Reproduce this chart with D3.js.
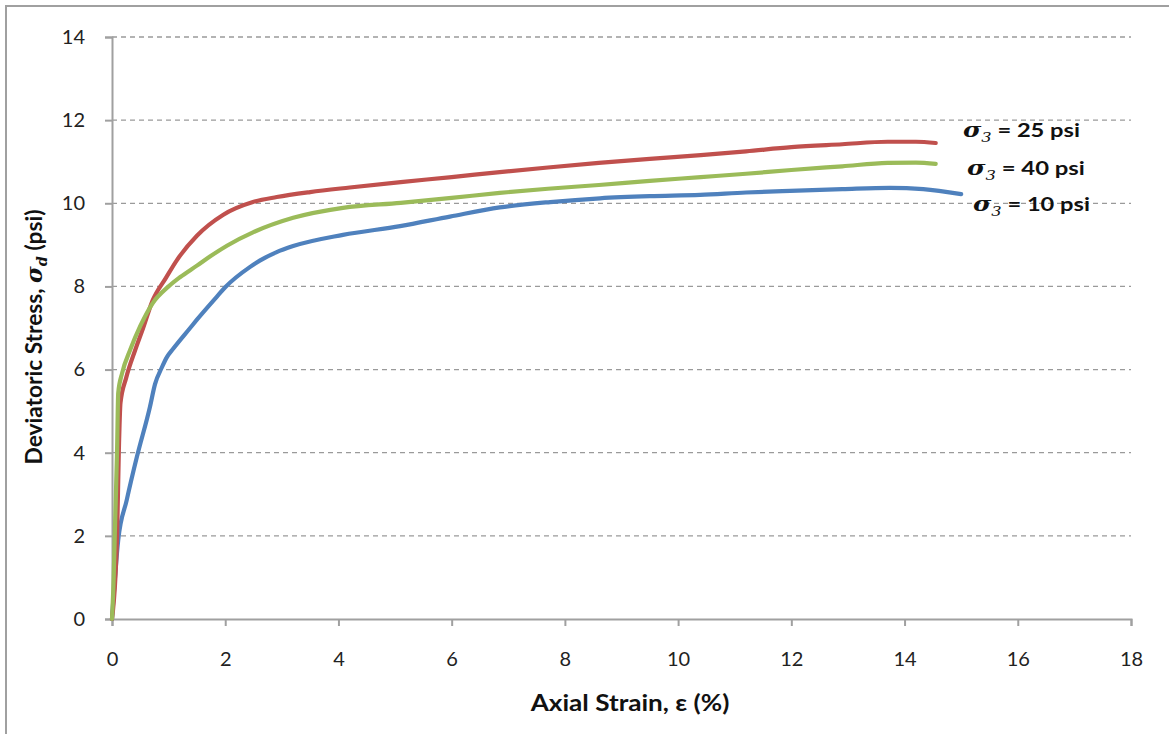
<!DOCTYPE html>
<html>
<head>
<meta charset="utf-8">
<script src="https://cdn.jsdelivr.net/npm/d3@7"></script>
<style>
  html, body { margin: 0; padding: 0; background: #fff; }
  svg { display: block; }
</style>
</head>
<body>
<svg id="chart" width="1169" height="734"></svg>
<script>
// ---- data ----
const xTicks = [0, 2, 4, 6, 8, 10, 12, 14, 16, 18];
const yTicks = [0, 2, 4, 6, 8, 10, 12, 14];

const seriesNames = ["10", "25", "40"];

const strain10 = [0, 0.11, 0.26, 0.44, 0.67, 0.76, 0.88, 0.97, 1.08, 1.38, 1.5, 1.85, 2.0, 2.44, 2.61, 2.9, 3.2, 4.08, 5.09, 5.97, 6.85, 7.74, 8.62, 9.5, 10.39, 11.2, 11.98, 12.9, 13.74, 14.33, 15.0];
const stress10 = [0, 1.9, 2.86, 3.9, 5.1, 5.65, 6.05, 6.3, 6.5, 7.0, 7.2, 7.75, 7.98, 8.47, 8.62, 8.82, 8.97, 9.24, 9.45, 9.68, 9.9, 10.03, 10.12, 10.17, 10.2, 10.26, 10.3, 10.34, 10.37, 10.34, 10.22];

const strain25 = [0, 0.06, 0.09, 0.12, 0.15, 0.25, 0.41, 0.55, 0.72, 0.95, 1.15, 1.5, 1.96, 2.49, 2.91, 3.5, 4.2, 5.1, 6.0, 6.85, 7.7, 8.6, 9.5, 10.4, 11.2, 12.0, 12.9, 13.7, 14.2, 14.55];
const stress25 = [0, 1.0, 2.0, 4.0, 5.2, 5.8, 6.47, 7.0, 7.67, 8.2, 8.64, 9.22, 9.72, 10.03, 10.15, 10.27, 10.38, 10.51, 10.63, 10.75, 10.86, 10.97, 11.07, 11.16, 11.25, 11.35, 11.42, 11.48, 11.48, 11.45];

const strain40 = [0, 0.03, 0.05, 0.09, 0.11, 0.18, 0.32, 0.5, 0.72, 1.0, 1.2, 1.5, 1.73, 2.03, 2.49, 3.2, 4.08, 5.1, 6.0, 6.85, 7.7, 8.6, 9.5, 10.4, 11.2, 12.0, 12.9, 13.7, 14.2, 14.55];
const stress40 = [0, 1.0, 2.07, 4.07, 5.44, 5.92, 6.47, 7.05, 7.6, 8.0, 8.22, 8.5, 8.72, 8.98, 9.3, 9.65, 9.89, 10.01, 10.13, 10.25, 10.35, 10.44, 10.54, 10.63, 10.71, 10.8, 10.89, 10.97, 10.98, 10.95];

const colors = { "10": "#4F81BD", "25": "#C0504D", "40": "#9BBB59" };

// ---- layout ----
const svg = d3.select("#chart");
const plotL = 112, plotR = 1131, plotT = 37, plotB = 619;

const x = d3.scaleLinear().domain([0, 18]).range([plotL, plotR]);
const y = d3.scaleLinear().domain([0, 14]).range([plotB, plotT]);

// outer frame
svg.append("rect")
  .attr("x", 6).attr("y", 6).attr("width", 1200).attr("height", 800)
  .attr("fill", "none").attr("stroke", "#a0a0a0").attr("stroke-width", 2);

// grid lines
svg.append("g").selectAll("line")
  .data(yTicks.filter(d => d > 0))
  .join("line")
  .attr("x1", plotL).attr("x2", plotR)
  .attr("y1", d => y(d)).attr("y2", d => y(d))
  .attr("stroke", "#9a9a9a").attr("stroke-width", 1.3)
  .attr("stroke-dasharray", "5,4");

const font = "Lato, 'Open Sans', sans-serif";

// axes
const yAxis = d3.axisLeft(y).tickValues(yTicks).tickSize(7).tickPadding(20).tickFormat(d3.format("d"));
const xAxis = d3.axisBottom(x).tickValues(xTicks).tickSize(7).tickPadding(26).tickFormat(d3.format("d"));

const gy = svg.append("g").attr("transform", `translate(${plotL},0)`).call(yAxis);
const gx = svg.append("g").attr("transform", `translate(0,${plotB})`).call(xAxis);
[gx, gy].forEach(g => {
  g.select(".domain").attr("stroke", "#a0a0a0").attr("stroke-width", 2);
  g.selectAll(".tick line").attr("stroke", "#a0a0a0").attr("stroke-width", 2);
  g.selectAll(".tick text").attr("fill", "#222").style("font-family", font).style("font-size", "20px");
});

// lines
const line = d3.line().x(d => x(d[0])).y(d => y(d[1])).curve(d3.curveMonotoneX);
const series = {
  "10": d3.zip(strain10, stress10),
  "25": d3.zip(strain25, stress25),
  "40": d3.zip(strain40, stress40)
};
["10", "25", "40"].forEach(k => {
  svg.append("path")
    .datum(series[k])
    .attr("d", line)
    .attr("fill", "none")
    .attr("stroke", colors[k])
    .attr("stroke-width", 4.2)
    .attr("stroke-linecap", "round")
    .attr("stroke-linejoin", "round");
});

// helper: stretch a text horizontally (in its own frame) to a target width
function fit(g, t, target) {
  const w = t.node().getBBox().width;
  const sx = target / w;
  g.attr("transform", g.attr("transform") + ` scale(${sx},1)`);
}

// series labels
const labels = [
  { name: "25", lx: 963, ly: 137, w: 117 },
  { name: "40", lx: 967, ly: 175, w: 118 },
  { name: "10", lx: 973, ly: 211, w: 117 }
];
labels.forEach(l => {
  const g = svg.append("g").attr("transform", `translate(${l.lx},${l.ly})`);
  const t = g.append("text")
    .attr("x", 0).attr("y", 0)
    .attr("fill", "#111")
    .style("font-size", "19px").style("font-weight", "bold").style("font-family", font);
  t.append("tspan").text("σ")
    .style("font-family", "'DejaVu Serif', serif").style("font-style", "italic").style("font-size", "20px");
  t.append("tspan").text("3").attr("dy", 5)
    .style("font-family", "'DejaVu Serif', serif").style("font-style", "italic").style("font-size", "13px").style("font-weight", "normal");
  t.append("tspan").text(" = " + l.name + " psi").attr("dy", -5);
  fit(g, t, l.w);
});

// axis titles
const gxt = svg.append("g").attr("transform", "translate(630,711)");
const xt = gxt.append("text")
  .attr("text-anchor", "middle")
  .attr("fill", "#111")
  .style("font-family", font).style("font-size", "22px").style("font-weight", "bold")
  .text("Axial Strain, ε (%)");
fit(gxt, xt, 200);

const gyt = svg.append("g").attr("transform", "translate(42,337) rotate(-90)");
const yt = gyt.append("text")
  .attr("text-anchor", "middle")
  .attr("fill", "#111")
  .style("font-family", font).style("font-size", "22px").style("font-weight", "bold");
yt.append("tspan").text("Deviatoric Stress, ");
yt.append("tspan").text("σ").style("font-family", "'DejaVu Serif', serif").style("font-style", "italic");
yt.append("tspan").text("d").attr("dy", 5).style("font-family", "'DejaVu Serif', serif").style("font-style", "italic").style("font-size", "14px");
yt.append("tspan").text(" (psi)").attr("dy", -5);
fit(gyt, yt, 255);
</script>
</body>
</html>
